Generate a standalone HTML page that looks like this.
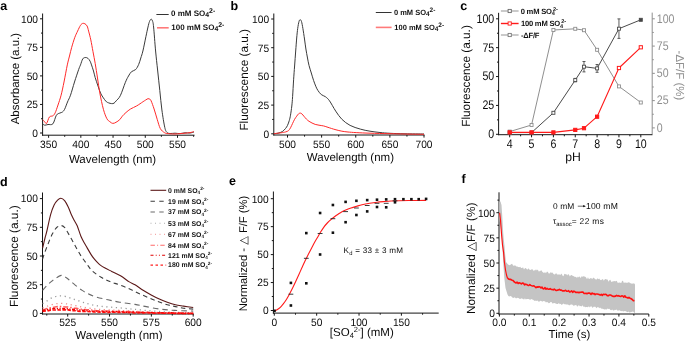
<!DOCTYPE html>
<html><head><meta charset="utf-8"><style>
html,body{margin:0;padding:0;background:#fff;}
body{width:685px;height:341px;overflow:hidden;}
svg{display:block;will-change:transform;font-family:"Liberation Sans", sans-serif;text-rendering:geometricPrecision;}
</style></head><body>
<svg width="685" height="341" viewBox="0 0 685 341">
<rect width="685" height="341" fill="#fff"/>
<text x="0.30" y="9.80" font-size="12.5" text-anchor="start" fill="#000" font-weight="bold" >a</text>
<line x1="42.60" y1="13.50" x2="42.60" y2="135.70" stroke="#151515" stroke-width="1" />
<line x1="40.00" y1="133.00" x2="42.60" y2="133.00" stroke="#151515" stroke-width="1" />
<line x1="40.00" y1="104.45" x2="42.60" y2="104.45" stroke="#151515" stroke-width="1" />
<line x1="40.00" y1="75.90" x2="42.60" y2="75.90" stroke="#151515" stroke-width="1" />
<line x1="40.00" y1="47.35" x2="42.60" y2="47.35" stroke="#151515" stroke-width="1" />
<line x1="40.00" y1="18.80" x2="42.60" y2="18.80" stroke="#151515" stroke-width="1" />
<line x1="41.00" y1="118.72" x2="42.60" y2="118.72" stroke="#151515" stroke-width="1" />
<line x1="41.00" y1="90.17" x2="42.60" y2="90.17" stroke="#151515" stroke-width="1" />
<line x1="41.00" y1="61.62" x2="42.60" y2="61.62" stroke="#151515" stroke-width="1" />
<line x1="41.00" y1="33.08" x2="42.60" y2="33.08" stroke="#151515" stroke-width="1" />
<text transform="translate(38.00,136.83) scale(1,1.05)" font-size="10.2" text-anchor="end" fill="#0a0a0a" font-weight="normal" >0</text>
<text transform="translate(38.00,108.28) scale(1,1.05)" font-size="10.2" text-anchor="end" fill="#0a0a0a" font-weight="normal" >25</text>
<text transform="translate(38.00,79.73) scale(1,1.05)" font-size="10.2" text-anchor="end" fill="#0a0a0a" font-weight="normal" >50</text>
<text transform="translate(38.00,51.18) scale(1,1.05)" font-size="10.2" text-anchor="end" fill="#0a0a0a" font-weight="normal" >75</text>
<text transform="translate(38.00,22.63) scale(1,1.05)" font-size="10.2" text-anchor="end" fill="#0a0a0a" font-weight="normal" >100</text>
<line x1="42.10" y1="135.20" x2="194.50" y2="135.20" stroke="#151515" stroke-width="1" />
<line x1="48.60" y1="135.20" x2="48.60" y2="137.80" stroke="#151515" stroke-width="1" />
<line x1="80.83" y1="135.20" x2="80.83" y2="137.80" stroke="#151515" stroke-width="1" />
<line x1="113.05" y1="135.20" x2="113.05" y2="137.80" stroke="#151515" stroke-width="1" />
<line x1="145.28" y1="135.20" x2="145.28" y2="137.80" stroke="#151515" stroke-width="1" />
<line x1="177.50" y1="135.20" x2="177.50" y2="137.80" stroke="#151515" stroke-width="1" />
<line x1="64.71" y1="135.20" x2="64.71" y2="136.80" stroke="#151515" stroke-width="1" />
<line x1="96.94" y1="135.20" x2="96.94" y2="136.80" stroke="#151515" stroke-width="1" />
<line x1="129.16" y1="135.20" x2="129.16" y2="136.80" stroke="#151515" stroke-width="1" />
<line x1="161.39" y1="135.20" x2="161.39" y2="136.80" stroke="#151515" stroke-width="1" />
<line x1="193.61" y1="135.20" x2="193.61" y2="136.80" stroke="#151515" stroke-width="1" />
<text transform="translate(48.60,148.00) scale(1,1.05)" font-size="10.2" text-anchor="middle" fill="#0a0a0a" font-weight="normal" >350</text>
<text transform="translate(80.83,148.00) scale(1,1.05)" font-size="10.2" text-anchor="middle" fill="#0a0a0a" font-weight="normal" >400</text>
<text transform="translate(113.05,148.00) scale(1,1.05)" font-size="10.2" text-anchor="middle" fill="#0a0a0a" font-weight="normal" >450</text>
<text transform="translate(145.28,148.00) scale(1,1.05)" font-size="10.2" text-anchor="middle" fill="#0a0a0a" font-weight="normal" >500</text>
<text transform="translate(177.50,148.00) scale(1,1.05)" font-size="10.2" text-anchor="middle" fill="#0a0a0a" font-weight="normal" >550</text>
<text transform="translate(18.70,78.60) rotate(-90)" x="0" y="0" font-size="11.5" text-anchor="middle" fill="#0a0a0a" >Absorbance (a.u.)</text>
<text x="112.50" y="162.70" font-size="11.5" text-anchor="middle" fill="#0a0a0a" font-weight="normal" >Wavelength (nm)</text>
<path d="M42.60,123.80 C42.95,124.03 43.80,125.08 44.70,125.20 C45.60,125.32 46.63,124.73 48.00,124.50 C49.37,124.27 51.50,125.35 52.90,123.80 C54.30,122.25 55.22,117.00 56.40,115.20 C57.58,113.40 59.02,113.52 60.00,113.00 C60.98,112.48 61.53,112.72 62.30,112.10 C63.07,111.48 63.73,110.98 64.60,109.30 C65.47,107.62 66.52,104.35 67.50,102.00 C68.48,99.65 69.33,98.53 70.50,95.20 C71.67,91.87 73.13,86.30 74.50,82.00 C75.87,77.70 77.70,72.25 78.70,69.40 C79.70,66.55 79.83,66.63 80.50,64.90 C81.17,63.17 81.92,60.23 82.70,59.00 C83.48,57.77 84.33,57.62 85.20,57.50 C86.07,57.38 87.08,57.68 87.90,58.30 C88.72,58.92 89.50,60.10 90.10,61.20 C90.70,62.30 90.93,63.27 91.50,64.90 C92.07,66.53 92.88,68.88 93.50,71.00 C94.12,73.12 94.45,75.10 95.20,77.60 C95.95,80.10 97.03,83.27 98.00,86.00 C98.97,88.73 99.72,91.50 101.00,94.00 C102.28,96.50 104.45,99.53 105.70,101.00 C106.95,102.47 107.52,102.37 108.50,102.80 C109.48,103.23 110.68,103.53 111.60,103.60 C112.52,103.67 113.23,103.67 114.00,103.20 C114.77,102.73 115.15,102.05 116.20,100.80 C117.25,99.55 118.77,98.78 120.30,95.70 C121.83,92.62 124.03,85.58 125.40,82.30 C126.77,79.02 127.47,77.78 128.50,76.00 C129.53,74.22 130.40,72.68 131.60,71.60 C132.80,70.52 134.52,70.70 135.70,69.50 C136.88,68.30 137.85,66.32 138.70,64.40 C139.55,62.48 140.10,60.23 140.80,58.00 C141.50,55.77 142.05,54.55 142.90,51.00 C143.75,47.45 145.05,40.70 145.90,36.70 C146.75,32.70 147.40,29.53 148.00,27.00 C148.60,24.47 148.98,22.80 149.50,21.50 C150.02,20.20 150.60,19.28 151.10,19.20 C151.60,19.12 152.08,19.70 152.50,21.00 C152.92,22.30 153.08,22.00 153.60,27.00 C154.12,32.00 154.93,43.83 155.60,51.00 C156.27,58.17 156.90,63.42 157.60,70.00 C158.30,76.58 159.08,83.83 159.80,90.50 C160.52,97.17 161.07,103.83 161.90,110.00 C162.73,116.17 163.95,123.77 164.80,127.50 C165.65,131.23 166.13,131.40 167.00,132.40 C167.87,133.40 168.67,133.37 170.00,133.50 C171.33,133.63 173.33,133.18 175.00,133.20 C176.67,133.22 178.33,133.67 180.00,133.60 C181.67,133.53 183.33,132.90 185.00,132.80 C186.67,132.70 188.50,133.13 190.00,133.00 C191.50,132.87 193.33,132.17 194.00,132.00" fill="none" stroke="#3a3a3a" stroke-width="1" stroke-linejoin="round" stroke-linecap="butt" />
<path d="M42.60,119.80 C42.92,120.08 43.83,120.90 44.50,121.50 C45.17,122.10 45.78,124.15 46.60,123.40 C47.42,122.65 48.35,118.27 49.40,117.00 C50.45,115.73 51.93,116.50 52.90,115.80 C53.87,115.10 54.35,114.60 55.20,112.80 C56.05,111.00 57.02,107.93 58.00,105.00 C58.98,102.07 60.10,99.03 61.10,95.20 C62.10,91.37 62.97,87.05 64.00,82.00 C65.03,76.95 66.38,69.23 67.30,64.90 C68.22,60.57 68.77,58.93 69.50,56.00 C70.23,53.07 70.83,50.35 71.70,47.30 C72.57,44.25 73.72,40.40 74.70,37.70 C75.68,35.00 76.63,33.17 77.60,31.10 C78.57,29.03 79.65,26.58 80.50,25.30 C81.35,24.02 81.97,23.65 82.70,23.40 C83.43,23.15 84.17,23.37 84.90,23.80 C85.63,24.23 86.48,24.78 87.10,26.00 C87.72,27.22 87.98,28.78 88.60,31.10 C89.22,33.42 90.07,36.47 90.80,39.90 C91.53,43.33 92.27,47.78 93.00,51.70 C93.73,55.62 94.45,59.02 95.20,63.40 C95.95,67.78 96.73,73.08 97.50,78.00 C98.27,82.92 98.82,87.68 99.80,92.90 C100.78,98.12 102.22,105.00 103.40,109.30 C104.58,113.60 105.80,116.62 106.90,118.70 C108.00,120.78 109.02,121.02 110.00,121.80 C110.98,122.58 111.80,123.32 112.80,123.40 C113.80,123.48 114.83,122.93 116.00,122.30 C117.17,121.67 118.75,120.62 119.80,119.60 C120.85,118.58 121.27,117.38 122.30,116.20 C123.33,115.02 124.63,113.70 126.00,112.50 C127.37,111.30 128.72,110.10 130.50,109.00 C132.28,107.90 134.63,107.10 136.70,105.90 C138.77,104.70 141.35,102.82 142.90,101.80 C144.45,100.78 145.15,100.32 146.00,99.80 C146.85,99.28 147.37,98.80 148.00,98.70 C148.63,98.60 149.28,98.85 149.80,99.20 C150.32,99.55 150.38,99.17 151.10,100.80 C151.82,102.43 153.08,105.92 154.10,109.00 C155.12,112.08 156.17,116.05 157.20,119.30 C158.23,122.55 159.10,126.28 160.30,128.50 C161.50,130.72 163.12,131.75 164.40,132.60 C165.68,133.45 166.23,133.37 168.00,133.60 C169.77,133.83 173.00,134.00 175.00,134.00 C177.00,134.00 178.33,133.73 180.00,133.60 C181.67,133.47 183.33,133.37 185.00,133.20 C186.67,133.03 188.50,132.87 190.00,132.60 C191.50,132.33 193.33,131.77 194.00,131.60" fill="none" stroke="#ff2a2a" stroke-width="1" stroke-linejoin="round" stroke-linecap="butt" />
<line x1="156.40" y1="14.50" x2="168.70" y2="14.50" stroke="#333" stroke-width="1" />
<line x1="157.00" y1="27.80" x2="168.70" y2="27.80" stroke="#ff7a7a" stroke-width="1.6" />
<text x="171.00" y="16.20" font-size="8.0" font-weight="bold" fill="#111" letter-spacing="0">0 mM SO<tspan font-size="6.9" dy="1.2">4</tspan><tspan font-size="6.9" dx="0" dy="-4.0">2-</tspan></text>
<text x="171.30" y="29.70" font-size="8.0" font-weight="bold" fill="#111" letter-spacing="0">100 mM SO<tspan font-size="6.9" dy="1.2">4</tspan><tspan font-size="6.9" dx="0" dy="-4.0">2-</tspan></text>
<text x="230.50" y="9.60" font-size="12.5" text-anchor="start" fill="#000" font-weight="bold" >b</text>
<line x1="273.80" y1="13.50" x2="273.80" y2="135.50" stroke="#151515" stroke-width="1" />
<line x1="271.20" y1="133.80" x2="273.80" y2="133.80" stroke="#151515" stroke-width="1" />
<line x1="271.20" y1="105.10" x2="273.80" y2="105.10" stroke="#151515" stroke-width="1" />
<line x1="271.20" y1="76.40" x2="273.80" y2="76.40" stroke="#151515" stroke-width="1" />
<line x1="271.20" y1="47.70" x2="273.80" y2="47.70" stroke="#151515" stroke-width="1" />
<line x1="271.20" y1="19.00" x2="273.80" y2="19.00" stroke="#151515" stroke-width="1" />
<line x1="272.20" y1="119.45" x2="273.80" y2="119.45" stroke="#151515" stroke-width="1" />
<line x1="272.20" y1="90.75" x2="273.80" y2="90.75" stroke="#151515" stroke-width="1" />
<line x1="272.20" y1="62.05" x2="273.80" y2="62.05" stroke="#151515" stroke-width="1" />
<line x1="272.20" y1="33.35" x2="273.80" y2="33.35" stroke="#151515" stroke-width="1" />
<text transform="translate(269.10,137.63) scale(1,1.05)" font-size="10.2" text-anchor="end" fill="#0a0a0a" font-weight="normal" >0</text>
<text transform="translate(269.10,108.93) scale(1,1.05)" font-size="10.2" text-anchor="end" fill="#0a0a0a" font-weight="normal" >25</text>
<text transform="translate(269.10,80.23) scale(1,1.05)" font-size="10.2" text-anchor="end" fill="#0a0a0a" font-weight="normal" >50</text>
<text transform="translate(269.10,51.53) scale(1,1.05)" font-size="10.2" text-anchor="end" fill="#0a0a0a" font-weight="normal" >75</text>
<text transform="translate(269.10,22.83) scale(1,1.05)" font-size="10.2" text-anchor="end" fill="#0a0a0a" font-weight="normal" >100</text>
<line x1="273.30" y1="135.00" x2="424.50" y2="135.00" stroke="#151515" stroke-width="1" />
<line x1="287.50" y1="135.00" x2="287.50" y2="137.60" stroke="#151515" stroke-width="1" />
<line x1="321.62" y1="135.00" x2="321.62" y2="137.60" stroke="#151515" stroke-width="1" />
<line x1="355.75" y1="135.00" x2="355.75" y2="137.60" stroke="#151515" stroke-width="1" />
<line x1="389.88" y1="135.00" x2="389.88" y2="137.60" stroke="#151515" stroke-width="1" />
<line x1="424.00" y1="135.00" x2="424.00" y2="137.60" stroke="#151515" stroke-width="1" />
<line x1="304.56" y1="135.00" x2="304.56" y2="136.60" stroke="#151515" stroke-width="1" />
<line x1="338.69" y1="135.00" x2="338.69" y2="136.60" stroke="#151515" stroke-width="1" />
<line x1="372.81" y1="135.00" x2="372.81" y2="136.60" stroke="#151515" stroke-width="1" />
<line x1="406.94" y1="135.00" x2="406.94" y2="136.60" stroke="#151515" stroke-width="1" />
<text transform="translate(287.50,147.80) scale(1,1.05)" font-size="10.2" text-anchor="middle" fill="#0a0a0a" font-weight="normal" >500</text>
<text transform="translate(321.62,147.80) scale(1,1.05)" font-size="10.2" text-anchor="middle" fill="#0a0a0a" font-weight="normal" >550</text>
<text transform="translate(355.75,147.80) scale(1,1.05)" font-size="10.2" text-anchor="middle" fill="#0a0a0a" font-weight="normal" >600</text>
<text transform="translate(389.88,147.80) scale(1,1.05)" font-size="10.2" text-anchor="middle" fill="#0a0a0a" font-weight="normal" >650</text>
<text transform="translate(424.00,147.80) scale(1,1.05)" font-size="10.2" text-anchor="middle" fill="#0a0a0a" font-weight="normal" >700</text>
<text transform="translate(248.30,79.80) rotate(-90)" x="0" y="0" font-size="11.8" text-anchor="middle" fill="#0a0a0a" >Fluorescence (a.u.)</text>
<text x="350.40" y="161.30" font-size="11.5" text-anchor="middle" fill="#0a0a0a" font-weight="normal" >Wavelength (nm)</text>
<path d="M273.80,133.70 C274.50,133.62 276.58,133.55 278.00,133.20 C279.42,132.85 281.05,132.38 282.30,131.60 C283.55,130.82 284.63,129.53 285.50,128.50 C286.37,127.47 286.87,126.73 287.50,125.40 C288.13,124.07 288.80,122.20 289.30,120.50 C289.80,118.80 290.08,117.62 290.50,115.20 C290.92,112.78 291.45,109.08 291.80,106.00 C292.15,102.92 292.30,101.07 292.60,96.70 C292.90,92.33 293.27,84.92 293.60,79.80 C293.93,74.68 294.25,70.80 294.60,66.00 C294.95,61.20 295.35,55.67 295.70,51.00 C296.05,46.33 296.37,41.75 296.70,38.00 C297.03,34.25 297.32,31.25 297.70,28.50 C298.08,25.75 298.58,22.97 299.00,21.50 C299.42,20.03 299.78,19.70 300.20,19.70 C300.62,19.70 301.05,20.03 301.50,21.50 C301.95,22.97 302.40,25.58 302.90,28.50 C303.40,31.42 304.00,35.58 304.50,39.00 C305.00,42.42 305.40,45.83 305.90,49.00 C306.40,52.17 306.98,55.27 307.50,58.00 C308.02,60.73 308.37,62.90 309.00,65.40 C309.63,67.90 310.53,70.48 311.30,73.00 C312.07,75.52 312.82,78.20 313.60,80.50 C314.38,82.80 315.27,85.12 316.00,86.80 C316.73,88.48 317.12,89.30 318.00,90.60 C318.88,91.90 320.07,93.58 321.30,94.60 C322.53,95.62 324.03,95.67 325.40,96.70 C326.77,97.73 327.78,98.40 329.50,100.80 C331.22,103.20 333.63,108.02 335.70,111.10 C337.77,114.18 339.50,116.92 341.90,119.30 C344.30,121.68 347.03,123.77 350.10,125.40 C353.17,127.03 356.98,128.13 360.30,129.10 C363.62,130.07 366.72,130.63 370.00,131.20 C373.28,131.77 376.67,132.15 380.00,132.50 C383.33,132.85 385.83,133.08 390.00,133.30 C394.17,133.52 399.33,133.68 405.00,133.80 C410.67,133.92 420.83,133.97 424.00,134.00" fill="none" stroke="#3a3a3a" stroke-width="1" stroke-linejoin="round" stroke-linecap="butt" />
<path d="M273.80,133.70 C275.22,133.52 280.27,132.92 282.30,132.60 C284.33,132.28 284.97,132.13 286.00,131.80 C287.03,131.47 287.75,131.27 288.50,130.60 C289.25,129.93 289.82,129.00 290.50,127.80 C291.18,126.60 291.92,124.82 292.60,123.40 C293.28,121.98 293.92,120.50 294.60,119.30 C295.28,118.10 296.03,117.12 296.70,116.20 C297.37,115.28 297.98,114.32 298.60,113.80 C299.22,113.28 299.83,113.07 300.40,113.10 C300.97,113.13 301.42,113.48 302.00,114.00 C302.58,114.52 303.15,115.33 303.90,116.20 C304.65,117.07 305.65,118.35 306.50,119.20 C307.35,120.05 308.08,120.67 309.00,121.30 C309.92,121.93 310.97,122.48 312.00,123.00 C313.03,123.52 314.03,124.03 315.20,124.40 C316.37,124.77 317.63,124.95 319.00,125.20 C320.37,125.45 322.07,125.60 323.40,125.90 C324.73,126.20 325.63,126.57 327.00,127.00 C328.37,127.43 330.10,128.03 331.60,128.50 C333.10,128.97 334.28,129.35 336.00,129.80 C337.72,130.25 339.90,130.83 341.90,131.20 C343.90,131.57 345.62,131.77 348.00,132.00 C350.38,132.23 352.53,132.40 356.20,132.60 C359.87,132.80 364.37,133.02 370.00,133.20 C375.63,133.38 383.33,133.55 390.00,133.70 C396.67,133.85 404.33,134.00 410.00,134.10 C415.67,134.20 421.67,134.27 424.00,134.30" fill="none" stroke="#ff2a2a" stroke-width="1" stroke-linejoin="round" stroke-linecap="butt" />
<line x1="375.80" y1="12.50" x2="391.60" y2="12.50" stroke="#333" stroke-width="1" />
<line x1="375.80" y1="27.40" x2="391.60" y2="27.40" stroke="#ff7a7a" stroke-width="1.6" />
<text x="393.90" y="14.90" font-size="7.5" font-weight="bold" fill="#111" letter-spacing="0">0 mM SO<tspan font-size="6.5" dy="1.2">4</tspan><tspan font-size="6.5" dx="0" dy="-3.8">2-</tspan></text>
<text x="394.30" y="29.50" font-size="7.5" font-weight="bold" fill="#111" letter-spacing="0">100 mM SO<tspan font-size="6.5" dy="1.2">4</tspan><tspan font-size="6.5" dx="0" dy="-3.8">2-</tspan></text>
<text x="460.30" y="9.60" font-size="12.5" text-anchor="start" fill="#000" font-weight="bold" >c</text>
<line x1="498.60" y1="12.80" x2="498.60" y2="135.20" stroke="#151515" stroke-width="1" />
<line x1="496.00" y1="134.30" x2="498.60" y2="134.30" stroke="#151515" stroke-width="1" />
<line x1="496.00" y1="105.43" x2="498.60" y2="105.43" stroke="#151515" stroke-width="1" />
<line x1="496.00" y1="76.55" x2="498.60" y2="76.55" stroke="#151515" stroke-width="1" />
<line x1="496.00" y1="47.67" x2="498.60" y2="47.67" stroke="#151515" stroke-width="1" />
<line x1="496.00" y1="18.80" x2="498.60" y2="18.80" stroke="#151515" stroke-width="1" />
<line x1="497.00" y1="119.86" x2="498.60" y2="119.86" stroke="#151515" stroke-width="1" />
<line x1="497.00" y1="90.99" x2="498.60" y2="90.99" stroke="#151515" stroke-width="1" />
<line x1="497.00" y1="62.11" x2="498.60" y2="62.11" stroke="#151515" stroke-width="1" />
<line x1="497.00" y1="33.24" x2="498.60" y2="33.24" stroke="#151515" stroke-width="1" />
<text transform="translate(494.20,138.20) scale(1,1.18)" font-size="10.6" text-anchor="end" fill="#0a0a0a" font-weight="normal" >0</text>
<text transform="translate(494.20,109.33) scale(1,1.18)" font-size="10.6" text-anchor="end" fill="#0a0a0a" font-weight="normal" >25</text>
<text transform="translate(494.20,80.45) scale(1,1.18)" font-size="10.6" text-anchor="end" fill="#0a0a0a" font-weight="normal" >50</text>
<text transform="translate(494.20,51.57) scale(1,1.18)" font-size="10.6" text-anchor="end" fill="#0a0a0a" font-weight="normal" >75</text>
<text transform="translate(494.20,22.70) scale(1,1.18)" font-size="10.6" text-anchor="end" fill="#0a0a0a" font-weight="normal" >100</text>
<line x1="652.20" y1="12.60" x2="652.20" y2="135.20" stroke="#8f8f8f" stroke-width="1" />
<line x1="652.20" y1="127.90" x2="654.80" y2="127.90" stroke="#8f8f8f" stroke-width="1" />
<line x1="652.20" y1="100.62" x2="654.80" y2="100.62" stroke="#8f8f8f" stroke-width="1" />
<line x1="652.20" y1="73.35" x2="654.80" y2="73.35" stroke="#8f8f8f" stroke-width="1" />
<line x1="652.20" y1="46.08" x2="654.80" y2="46.08" stroke="#8f8f8f" stroke-width="1" />
<line x1="652.20" y1="18.80" x2="654.80" y2="18.80" stroke="#8f8f8f" stroke-width="1" />
<line x1="652.20" y1="114.26" x2="653.80" y2="114.26" stroke="#8f8f8f" stroke-width="1" />
<line x1="652.20" y1="86.99" x2="653.80" y2="86.99" stroke="#8f8f8f" stroke-width="1" />
<line x1="652.20" y1="59.71" x2="653.80" y2="59.71" stroke="#8f8f8f" stroke-width="1" />
<line x1="652.20" y1="32.44" x2="653.80" y2="32.44" stroke="#8f8f8f" stroke-width="1" />
<text transform="translate(656.80,131.60) scale(1,1.18)" font-size="10.6" text-anchor="start" fill="#8f8f8f" font-weight="normal" >0</text>
<text transform="translate(656.80,104.33) scale(1,1.18)" font-size="10.6" text-anchor="start" fill="#8f8f8f" font-weight="normal" >25</text>
<text transform="translate(656.80,77.05) scale(1,1.18)" font-size="10.6" text-anchor="start" fill="#8f8f8f" font-weight="normal" >50</text>
<text transform="translate(656.80,49.78) scale(1,1.18)" font-size="10.6" text-anchor="start" fill="#8f8f8f" font-weight="normal" >75</text>
<text transform="translate(656.80,22.50) scale(1,1.18)" font-size="10.6" text-anchor="start" fill="#8f8f8f" font-weight="normal" >100</text>
<line x1="498.10" y1="134.70" x2="652.20" y2="134.70" stroke="#151515" stroke-width="1" />
<line x1="509.70" y1="134.70" x2="509.70" y2="137.30" stroke="#151515" stroke-width="1" />
<line x1="531.55" y1="134.70" x2="531.55" y2="137.30" stroke="#151515" stroke-width="1" />
<line x1="553.40" y1="134.70" x2="553.40" y2="137.30" stroke="#151515" stroke-width="1" />
<line x1="575.25" y1="134.70" x2="575.25" y2="137.30" stroke="#151515" stroke-width="1" />
<line x1="597.10" y1="134.70" x2="597.10" y2="137.30" stroke="#151515" stroke-width="1" />
<line x1="618.95" y1="134.70" x2="618.95" y2="137.30" stroke="#151515" stroke-width="1" />
<line x1="640.80" y1="134.70" x2="640.80" y2="137.30" stroke="#151515" stroke-width="1" />
<line x1="520.62" y1="134.70" x2="520.62" y2="136.30" stroke="#151515" stroke-width="1" />
<line x1="542.48" y1="134.70" x2="542.48" y2="136.30" stroke="#151515" stroke-width="1" />
<line x1="564.32" y1="134.70" x2="564.32" y2="136.30" stroke="#151515" stroke-width="1" />
<line x1="586.17" y1="134.70" x2="586.17" y2="136.30" stroke="#151515" stroke-width="1" />
<line x1="608.02" y1="134.70" x2="608.02" y2="136.30" stroke="#151515" stroke-width="1" />
<line x1="629.88" y1="134.70" x2="629.88" y2="136.30" stroke="#151515" stroke-width="1" />
<text transform="translate(509.70,148.20) scale(1,1.18)" font-size="10.6" text-anchor="middle" fill="#0a0a0a" font-weight="normal" >4</text>
<text transform="translate(531.55,148.20) scale(1,1.18)" font-size="10.6" text-anchor="middle" fill="#0a0a0a" font-weight="normal" >5</text>
<text transform="translate(553.40,148.20) scale(1,1.18)" font-size="10.6" text-anchor="middle" fill="#0a0a0a" font-weight="normal" >6</text>
<text transform="translate(575.25,148.20) scale(1,1.18)" font-size="10.6" text-anchor="middle" fill="#0a0a0a" font-weight="normal" >7</text>
<text transform="translate(597.10,148.20) scale(1,1.18)" font-size="10.6" text-anchor="middle" fill="#0a0a0a" font-weight="normal" >8</text>
<text transform="translate(618.95,148.20) scale(1,1.18)" font-size="10.6" text-anchor="middle" fill="#0a0a0a" font-weight="normal" >9</text>
<text transform="translate(640.80,148.20) scale(1,1.18)" font-size="10.6" text-anchor="middle" fill="#0a0a0a" font-weight="normal" >10</text>
<text transform="translate(470.10,76.00) rotate(-90)" x="0" y="0" font-size="11.8" text-anchor="middle" fill="#0a0a0a" >Fluorescence (a.u.)</text>
<text transform="translate(675.60,75.50) rotate(90)" x="0" y="0" font-size="11.5" text-anchor="middle" fill="#8f8f8f" >-ΔF/F (%)</text>
<text x="573.00" y="160.60" font-size="12.2" text-anchor="middle" fill="#0a0a0a" font-weight="normal" >pH</text>
<path d="M509.70,131.60 L531.55,125.00 L553.40,30.00 L575.25,28.80 L583.99,30.20 L597.10,49.80 L618.95,86.40 L640.80,102.50" fill="none" stroke="#8f8f8f" stroke-width="1" stroke-linejoin="round" stroke-linecap="butt" />
<path d="M509.70,132.60 L531.55,132.60 L553.40,112.80 L575.25,80.10 L583.99,66.70 L597.10,68.40 L618.95,28.70 L640.80,19.80" fill="none" stroke="#4a4a4a" stroke-width="1" stroke-linejoin="round" stroke-linecap="butt" />
<line x1="575.25" y1="78.40" x2="575.25" y2="81.80" stroke="#4a4a4a" stroke-width="0.9" />
<line x1="573.75" y1="78.40" x2="576.75" y2="78.40" stroke="#4a4a4a" stroke-width="0.9" />
<line x1="573.75" y1="81.80" x2="576.75" y2="81.80" stroke="#4a4a4a" stroke-width="0.9" />
<line x1="583.99" y1="61.50" x2="583.99" y2="71.90" stroke="#4a4a4a" stroke-width="0.9" />
<line x1="582.49" y1="61.50" x2="585.49" y2="61.50" stroke="#4a4a4a" stroke-width="0.9" />
<line x1="582.49" y1="71.90" x2="585.49" y2="71.90" stroke="#4a4a4a" stroke-width="0.9" />
<line x1="597.10" y1="64.50" x2="597.10" y2="72.30" stroke="#4a4a4a" stroke-width="0.9" />
<line x1="595.60" y1="64.50" x2="598.60" y2="64.50" stroke="#4a4a4a" stroke-width="0.9" />
<line x1="595.60" y1="72.30" x2="598.60" y2="72.30" stroke="#4a4a4a" stroke-width="0.9" />
<line x1="618.95" y1="18.90" x2="618.95" y2="38.40" stroke="#4a4a4a" stroke-width="0.9" />
<line x1="617.45" y1="18.90" x2="620.45" y2="18.90" stroke="#4a4a4a" stroke-width="0.9" />
<line x1="617.45" y1="38.40" x2="620.45" y2="38.40" stroke="#4a4a4a" stroke-width="0.9" />
<rect x="508.20" y="130.10" width="3" height="3" fill="#fff" stroke="#8f8f8f" stroke-width="0.9"/>
<rect x="530.05" y="123.50" width="3" height="3" fill="#fff" stroke="#8f8f8f" stroke-width="0.9"/>
<rect x="551.90" y="28.50" width="3" height="3" fill="#fff" stroke="#8f8f8f" stroke-width="0.9"/>
<rect x="573.75" y="27.30" width="3" height="3" fill="#fff" stroke="#8f8f8f" stroke-width="0.9"/>
<rect x="582.49" y="28.70" width="3" height="3" fill="#fff" stroke="#8f8f8f" stroke-width="0.9"/>
<rect x="595.60" y="48.30" width="3" height="3" fill="#fff" stroke="#8f8f8f" stroke-width="0.9"/>
<rect x="617.45" y="84.90" width="3" height="3" fill="#fff" stroke="#8f8f8f" stroke-width="0.9"/>
<rect x="639.30" y="101.00" width="3" height="3" fill="#fff" stroke="#8f8f8f" stroke-width="0.9"/>
<rect x="508.20" y="131.10" width="3" height="3" fill="#fff" stroke="#4a4a4a" stroke-width="0.9"/>
<rect x="530.05" y="131.10" width="3" height="3" fill="#fff" stroke="#4a4a4a" stroke-width="0.9"/>
<rect x="551.90" y="111.30" width="3" height="3" fill="#fff" stroke="#4a4a4a" stroke-width="0.9"/>
<rect x="573.75" y="78.60" width="3" height="3" fill="#fff" stroke="#4a4a4a" stroke-width="0.9"/>
<rect x="582.49" y="65.20" width="3" height="3" fill="#fff" stroke="#4a4a4a" stroke-width="0.9"/>
<rect x="595.60" y="66.90" width="3" height="3" fill="#fff" stroke="#4a4a4a" stroke-width="0.9"/>
<rect x="617.45" y="27.20" width="3" height="3" fill="#fff" stroke="#4a4a4a" stroke-width="0.9"/>
<rect x="639.30" y="18.30" width="3" height="3" fill="#444" stroke="#4a4a4a" stroke-width="0.9"/>
<path d="M509.70,132.40 L531.55,132.40 L553.40,132.40 L575.25,129.90 L583.99,128.20 L597.10,116.70 L618.95,68.00 L640.80,47.30" fill="none" stroke="#ff1a1a" stroke-width="1.1" stroke-linejoin="round" stroke-linecap="butt" />
<rect x="508.10" y="130.80" width="3.2" height="3.2" fill="#ff1a1a" stroke="#ff1a1a" stroke-width="1"/>
<rect x="529.95" y="130.80" width="3.2" height="3.2" fill="#ff1a1a" stroke="#ff1a1a" stroke-width="1"/>
<rect x="551.80" y="130.80" width="3.2" height="3.2" fill="#ff1a1a" stroke="#ff1a1a" stroke-width="1"/>
<rect x="573.65" y="128.30" width="3.2" height="3.2" fill="#ff1a1a" stroke="#ff1a1a" stroke-width="1"/>
<rect x="582.39" y="126.60" width="3.2" height="3.2" fill="#ff1a1a" stroke="#ff1a1a" stroke-width="1"/>
<rect x="595.50" y="115.10" width="3.2" height="3.2" fill="#ff1a1a" stroke="#ff1a1a" stroke-width="1"/>
<rect x="617.35" y="66.40" width="3.2" height="3.2" fill="#fff" stroke="#ff1a1a" stroke-width="1"/>
<rect x="639.20" y="45.70" width="3.2" height="3.2" fill="#fff" stroke="#ff1a1a" stroke-width="1"/>
<line x1="500.90" y1="11.00" x2="518.60" y2="11.00" stroke="#b4b4b4" stroke-width="1.4" />
<rect x="508.10" y="9.40" width="3.2" height="3.2" fill="#fff" stroke="#6a6a6a" stroke-width="0.9"/>
<line x1="500.90" y1="23.50" x2="518.60" y2="23.50" stroke="#ff1a1a" stroke-width="1.4" />
<rect x="508.10" y="21.90" width="3.2" height="3.2" fill="#fff" stroke="#ff1a1a" stroke-width="0.9"/>
<line x1="500.90" y1="35.00" x2="518.60" y2="35.00" stroke="#b4b4b4" stroke-width="1.4" />
<rect x="508.10" y="33.40" width="3.2" height="3.2" fill="#fff" stroke="#7a7a7a" stroke-width="0.9"/>
<text x="520.7" y="13.7" font-size="7.6" font-weight="bold" fill="#111" letter-spacing="-0.2">0 mM SO<tspan font-size="5.6" dy="1.6">4</tspan><tspan font-size="5.6" dx="-1.6" dy="-4.8">2-</tspan></text>
<text x="520.9" y="26.2" font-size="7.6" font-weight="bold" fill="#111" letter-spacing="-0.2">100 mM SO<tspan font-size="5.6" dy="1.6">4</tspan><tspan font-size="5.6" dx="-1.6" dy="-4.8">2-</tspan></text>
<text x="520.9" y="37.7" font-size="7.6" font-weight="bold" fill="#111" letter-spacing="-0.2">-ΔF/F</text>
<text x="0.00" y="185.50" font-size="12.5" text-anchor="start" fill="#000" font-weight="bold" >d</text>
<line x1="42.50" y1="192.50" x2="42.50" y2="314.50" stroke="#151515" stroke-width="1" />
<line x1="39.90" y1="313.40" x2="42.50" y2="313.40" stroke="#151515" stroke-width="1" />
<line x1="39.90" y1="284.70" x2="42.50" y2="284.70" stroke="#151515" stroke-width="1" />
<line x1="39.90" y1="256.00" x2="42.50" y2="256.00" stroke="#151515" stroke-width="1" />
<line x1="39.90" y1="227.30" x2="42.50" y2="227.30" stroke="#151515" stroke-width="1" />
<line x1="39.90" y1="198.60" x2="42.50" y2="198.60" stroke="#151515" stroke-width="1" />
<line x1="40.90" y1="299.05" x2="42.50" y2="299.05" stroke="#151515" stroke-width="1" />
<line x1="40.90" y1="270.35" x2="42.50" y2="270.35" stroke="#151515" stroke-width="1" />
<line x1="40.90" y1="241.65" x2="42.50" y2="241.65" stroke="#151515" stroke-width="1" />
<line x1="40.90" y1="212.95" x2="42.50" y2="212.95" stroke="#151515" stroke-width="1" />
<text transform="translate(37.80,317.23) scale(1,1.05)" font-size="10.2" text-anchor="end" fill="#0a0a0a" font-weight="normal" >0</text>
<text transform="translate(37.80,288.53) scale(1,1.05)" font-size="10.2" text-anchor="end" fill="#0a0a0a" font-weight="normal" >25</text>
<text transform="translate(37.80,259.83) scale(1,1.05)" font-size="10.2" text-anchor="end" fill="#0a0a0a" font-weight="normal" >50</text>
<text transform="translate(37.80,231.13) scale(1,1.05)" font-size="10.2" text-anchor="end" fill="#0a0a0a" font-weight="normal" >75</text>
<text transform="translate(37.80,202.43) scale(1,1.05)" font-size="10.2" text-anchor="end" fill="#0a0a0a" font-weight="normal" >100</text>
<line x1="42.00" y1="314.00" x2="193.70" y2="314.00" stroke="#151515" stroke-width="1" />
<line x1="67.70" y1="314.00" x2="67.70" y2="316.60" stroke="#151515" stroke-width="1" />
<line x1="109.53" y1="314.00" x2="109.53" y2="316.60" stroke="#151515" stroke-width="1" />
<line x1="151.37" y1="314.00" x2="151.37" y2="316.60" stroke="#151515" stroke-width="1" />
<line x1="193.20" y1="314.00" x2="193.20" y2="316.60" stroke="#151515" stroke-width="1" />
<line x1="46.78" y1="314.00" x2="46.78" y2="315.60" stroke="#151515" stroke-width="1" />
<line x1="88.62" y1="314.00" x2="88.62" y2="315.60" stroke="#151515" stroke-width="1" />
<line x1="130.45" y1="314.00" x2="130.45" y2="315.60" stroke="#151515" stroke-width="1" />
<line x1="172.28" y1="314.00" x2="172.28" y2="315.60" stroke="#151515" stroke-width="1" />
<text transform="translate(67.70,325.90) scale(1,1.05)" font-size="10.2" text-anchor="middle" fill="#0a0a0a" font-weight="normal" >525</text>
<text transform="translate(109.53,325.90) scale(1,1.05)" font-size="10.2" text-anchor="middle" fill="#0a0a0a" font-weight="normal" >550</text>
<text transform="translate(151.37,325.90) scale(1,1.05)" font-size="10.2" text-anchor="middle" fill="#0a0a0a" font-weight="normal" >575</text>
<text transform="translate(193.20,325.90) scale(1,1.05)" font-size="10.2" text-anchor="middle" fill="#0a0a0a" font-weight="normal" >600</text>
<text transform="translate(18.10,256.20) rotate(-90)" x="0" y="0" font-size="11.8" text-anchor="middle" fill="#0a0a0a" >Fluorescence (a.u.)</text>
<text x="118.90" y="338.50" font-size="11.5" text-anchor="middle" fill="#0a0a0a" font-weight="normal" >Wavelength (nm)</text>
<path d="M42.60,248.00 C43.00,246.33 44.27,240.92 45.00,238.00 C45.73,235.08 46.07,234.40 47.00,230.50 C47.93,226.60 49.42,218.85 50.60,214.60 C51.78,210.35 52.93,207.40 54.10,205.00 C55.27,202.60 56.49,201.32 57.60,200.20 C58.71,199.08 59.58,198.23 60.75,198.30 C61.92,198.37 63.37,199.20 64.60,200.60 C65.82,202.00 66.98,204.38 68.10,206.70 C69.22,209.02 70.32,212.28 71.30,214.50 C72.28,216.72 73.02,218.12 74.00,220.00 C74.98,221.88 76.05,223.08 77.20,225.80 C78.35,228.52 79.68,233.38 80.90,236.30 C82.12,239.22 83.48,241.42 84.50,243.30 C85.52,245.18 85.90,245.72 87.00,247.60 C88.10,249.48 89.93,252.77 91.10,254.60 C92.27,256.43 92.92,257.27 94.00,258.60 C95.08,259.93 96.43,261.43 97.60,262.60 C98.77,263.77 99.83,264.73 101.00,265.60 C102.17,266.47 102.82,266.83 104.60,267.80 C106.38,268.77 109.05,270.07 111.70,271.40 C114.35,272.73 117.57,274.05 120.50,275.80 C123.43,277.55 126.88,280.40 129.30,281.90 C131.72,283.40 132.70,283.42 135.00,284.80 C137.30,286.18 140.40,288.52 143.10,290.20 C145.80,291.88 148.50,293.43 151.20,294.90 C153.90,296.37 156.62,297.77 159.30,299.00 C161.98,300.23 164.62,301.33 167.30,302.30 C169.98,303.27 172.70,304.17 175.40,304.80 C178.10,305.43 180.53,305.65 183.50,306.10 C186.47,306.55 191.58,307.27 193.20,307.50" fill="none" stroke="#5b1818" stroke-width="1.1" stroke-linejoin="round" stroke-linecap="butt" />
<path d="M42.60,259.00 C42.87,258.17 43.32,256.45 44.20,254.00 C45.08,251.55 46.55,247.62 47.90,244.30 C49.25,240.98 50.83,236.90 52.30,234.10 C53.77,231.30 55.23,228.92 56.70,227.50 C58.17,226.08 59.80,225.63 61.10,225.60 C62.40,225.57 63.28,225.97 64.50,227.30 C65.72,228.63 67.02,231.25 68.40,233.60 C69.78,235.95 71.33,238.75 72.80,241.40 C74.27,244.05 75.73,246.93 77.20,249.50 C78.67,252.07 80.02,254.42 81.60,256.80 C83.18,259.18 84.92,261.43 86.70,263.80 C88.48,266.17 89.90,268.75 92.30,271.00 C94.70,273.25 98.17,275.53 101.10,277.30 C104.03,279.07 106.97,280.38 109.90,281.60 C112.83,282.82 115.77,283.52 118.70,284.60 C121.63,285.68 124.78,286.93 127.50,288.10 C130.22,289.27 132.42,290.40 135.00,291.60 C137.58,292.80 140.30,294.10 143.00,295.30 C145.70,296.50 148.48,297.67 151.20,298.80 C153.92,299.93 156.62,301.12 159.30,302.10 C161.98,303.08 164.62,303.95 167.30,304.70 C169.98,305.45 172.70,306.02 175.40,306.60 C178.10,307.18 180.53,307.78 183.50,308.20 C186.47,308.62 191.58,308.95 193.20,309.10" fill="none" stroke="#3c3c3c" stroke-width="1.1" stroke-linejoin="round" stroke-linecap="butt" stroke-dasharray="4.5,3.5"/>
<path d="M42.60,290.40 C43.50,289.42 46.10,286.32 48.00,284.50 C49.90,282.68 51.82,281.02 54.00,279.50 C56.18,277.98 59.10,275.73 61.10,275.40 C63.10,275.07 64.43,276.57 66.00,277.50 C67.57,278.43 67.80,278.85 70.50,281.00 C73.20,283.15 78.28,287.85 82.20,290.40 C86.12,292.95 89.70,294.73 94.00,296.30 C98.30,297.87 103.70,298.82 108.00,299.80 C112.30,300.78 115.30,301.43 119.80,302.20 C124.30,302.97 130.80,303.70 135.00,304.40 C139.20,305.10 140.83,305.62 145.00,306.40 C149.17,307.18 155.00,308.43 160.00,309.10 C165.00,309.77 169.47,310.07 175.00,310.40 C180.53,310.73 190.17,310.98 193.20,311.10" fill="none" stroke="#6a6a6a" stroke-width="1.1" stroke-linejoin="round" stroke-linecap="butt" stroke-dasharray="5.5,4"/>
<path d="M42.60,303.60 C43.00,303.34 44.27,302.50 45.00,302.05 C45.73,301.60 46.07,301.49 47.00,300.89 C47.93,300.28 49.42,299.08 50.60,298.42 C51.78,297.77 52.93,297.31 54.10,296.94 C55.27,296.56 56.49,296.37 57.60,296.19 C58.71,296.02 59.58,295.89 60.75,295.90 C61.92,295.91 63.37,296.04 64.60,296.25 C65.82,296.47 66.98,296.84 68.10,297.20 C69.22,297.56 70.32,298.06 71.30,298.41 C72.28,298.75 73.02,298.97 74.00,299.26 C74.98,299.55 76.05,299.74 77.20,300.16 C78.35,300.58 79.68,301.34 80.90,301.79 C82.12,302.24 83.48,302.58 84.50,302.87 C85.52,303.16 85.90,303.25 87.00,303.54 C88.10,303.83 89.93,304.34 91.10,304.62 C92.27,304.91 92.92,305.04 94.00,305.24 C95.08,305.45 96.43,305.68 97.60,305.86 C98.77,306.04 99.83,306.19 101.00,306.33 C102.17,306.46 102.82,306.52 104.60,306.67 C106.38,306.82 109.05,307.02 111.70,307.23 C114.35,307.43 117.57,307.64 120.50,307.91 C123.43,308.18 126.88,308.62 129.30,308.86 C131.72,309.09 132.70,309.09 135.00,309.31 C137.30,309.52 140.40,309.88 143.10,310.14 C145.80,310.40 148.50,310.64 151.20,310.87 C153.90,311.10 156.62,311.31 159.30,311.51 C161.98,311.70 164.62,311.87 167.30,312.02 C169.98,312.17 172.70,312.31 175.40,312.41 C178.10,312.50 180.53,312.54 183.50,312.61 C186.47,312.68 191.58,312.79 193.20,312.82" fill="none" stroke="#9a9a9a" stroke-width="1.3" stroke-linejoin="round" stroke-linecap="butt" stroke-dasharray="1.2,3.6" stroke-linecap="round"/>
<path d="M42.60,307.88 C43.00,307.73 44.27,307.24 45.00,306.98 C45.73,306.72 46.07,306.65 47.00,306.30 C47.93,305.95 49.42,305.25 50.60,304.87 C51.78,304.49 52.93,304.22 54.10,304.01 C55.27,303.79 56.49,303.68 57.60,303.58 C58.71,303.48 59.58,303.40 60.75,303.41 C61.92,303.41 63.37,303.49 64.60,303.61 C65.82,303.74 66.98,303.95 68.10,304.16 C69.22,304.37 70.32,304.66 71.30,304.86 C72.28,305.06 73.02,305.19 74.00,305.36 C74.98,305.53 76.05,305.64 77.20,305.88 C78.35,306.12 79.68,306.56 80.90,306.82 C82.12,307.09 83.48,307.29 84.50,307.45 C85.52,307.62 85.90,307.67 87.00,307.84 C88.10,308.01 89.93,308.31 91.10,308.47 C92.27,308.64 92.92,308.71 94.00,308.83 C95.08,308.95 96.43,309.09 97.60,309.19 C98.77,309.30 99.83,309.38 101.00,309.46 C102.17,309.54 102.82,309.57 104.60,309.66 C106.38,309.75 109.05,309.86 111.70,309.98 C114.35,310.10 117.57,310.22 120.50,310.38 C123.43,310.54 126.88,310.79 129.30,310.93 C131.72,311.06 132.70,311.07 135.00,311.19 C137.30,311.31 140.40,311.52 143.10,311.68 C145.80,311.83 148.50,311.97 151.20,312.10 C153.90,312.23 156.62,312.36 159.30,312.47 C161.98,312.58 164.62,312.68 167.30,312.76 C169.98,312.85 172.70,312.93 175.40,312.99 C178.10,313.05 180.53,313.07 183.50,313.11 C186.47,313.15 191.58,313.21 193.20,313.23" fill="none" stroke="#f08a8a" stroke-width="1.3" stroke-linejoin="round" stroke-linecap="butt" stroke-dasharray="1.2,3.6"/>
<path d="M42.60,309.51 L45.00,309.09 L47.00,308.54 L50.60,307.72 L54.10,307.16 L57.60,306.54 L60.75,306.39 L64.60,307.02 L68.10,307.04 L71.30,307.49 L74.00,308.28 L77.20,308.31 L80.90,309.16 L84.50,309.37 L87.00,309.72 L91.10,309.85 L94.00,310.38 L97.60,310.76 L101.00,310.73 L104.60,311.00 L108.15,311.06 L111.70,310.81 L116.10,311.35 L120.50,311.39 L124.90,311.40 L129.30,311.42 L135.00,312.09 L139.05,312.02 L143.10,312.33 L147.15,312.56 L151.20,312.61 L155.25,312.85 L159.30,312.66 L163.30,313.00 L167.30,312.89 L171.35,313.26 L175.40,313.30 L179.45,312.87 L183.50,312.93 L186.73,313.01 L189.97,313.49 L193.20,313.20" fill="none" stroke="#ff5a5a" stroke-width="1.4" stroke-linejoin="round" stroke-linecap="butt" stroke-dasharray="5,2,1.5,2"/>
<path d="M42.60,310.66 L45.00,310.00 L47.00,309.78 L50.60,308.98 L54.10,308.51 L57.60,308.43 L60.75,308.35 L64.60,308.64 L68.10,308.79 L71.30,309.30 L74.00,309.51 L77.20,309.86 L80.90,310.15 L84.50,310.16 L87.00,310.78 L91.10,311.16 L94.00,311.31 L97.60,311.30 L101.00,311.52 L104.60,311.32 L108.15,311.77 L111.70,311.70 L116.10,311.63 L120.50,311.60 L124.90,312.21 L129.30,312.44 L135.00,312.03 L139.05,312.58 L143.10,312.47 L147.15,312.42 L151.20,312.62 L155.25,313.00 L159.30,313.15 L163.30,312.73 L167.30,313.15 L171.35,312.86 L175.40,313.33 L179.45,313.12 L183.50,313.48 L186.73,313.56 L189.97,313.30 L193.20,313.62" fill="none" stroke="#e80000" stroke-width="1.5" stroke-linejoin="round" stroke-linecap="butt" stroke-dasharray="3,1.5,1.2,1.5,1.2,1.5"/>
<path d="M42.60,311.39 L45.00,310.93 L47.00,311.00 L50.60,310.15 L54.10,309.94 L57.60,309.92 L60.75,309.98 L64.60,309.78 L68.10,309.90 L71.30,310.65 L74.00,310.49 L77.20,311.07 L80.90,311.36 L84.50,311.28 L87.00,311.46 L91.10,311.72 L94.00,311.93 L97.60,312.03 L101.00,312.10 L104.60,312.21 L108.15,312.46 L111.70,312.25 L116.10,312.28 L120.50,312.52 L124.90,312.33 L129.30,312.47 L135.00,312.97 L139.05,312.78 L143.10,312.88 L147.15,312.63 L151.20,312.95 L155.25,313.12 L159.30,312.84 L163.30,313.26 L167.30,313.32 L171.35,313.01 L175.40,313.39 L179.45,313.32 L183.50,313.47 L186.73,313.29 L189.97,313.51 L193.20,313.55" fill="none" stroke="#ff0a0a" stroke-width="1.6" stroke-linejoin="round" stroke-linecap="butt" stroke-dasharray="3.5,1.5"/>
<line x1="150.50" y1="190.30" x2="166.20" y2="190.30" stroke="#5b1818" stroke-width="1.1" />
<text x="168.1" y="192.60" font-size="6.9" font-weight="bold" fill="#111">0 mM SO<tspan font-size="4.6" dy="1.4">4</tspan><tspan font-size="4.8" dy="-4.2">2-</tspan></text>
<line x1="150.50" y1="201.20" x2="166.20" y2="201.20" stroke="#3c3c3c" stroke-width="1.1" stroke-dasharray="4.4,4.4"/>
<text x="168.1" y="203.50" font-size="6.9" font-weight="bold" fill="#111">19 mM SO<tspan font-size="4.6" dy="1.4">4</tspan><tspan font-size="4.8" dy="-4.2">2-</tspan></text>
<line x1="150.50" y1="212.00" x2="166.20" y2="212.00" stroke="#6a6a6a" stroke-width="1.1" stroke-dasharray="4.4,4.4"/>
<text x="168.1" y="214.30" font-size="6.9" font-weight="bold" fill="#111">37 mM SO<tspan font-size="4.6" dy="1.4">4</tspan><tspan font-size="4.8" dy="-4.2">2-</tspan></text>
<line x1="150.50" y1="223.20" x2="166.20" y2="223.20" stroke="#b0b0b0" stroke-width="1.1" stroke-dasharray="1,3.5"/>
<text x="168.1" y="225.50" font-size="6.9" font-weight="bold" fill="#111">53 mM SO<tspan font-size="4.6" dy="1.4">4</tspan><tspan font-size="4.8" dy="-4.2">2-</tspan></text>
<line x1="150.50" y1="234.40" x2="166.20" y2="234.40" stroke="#f4a8a8" stroke-width="1.1" stroke-dasharray="1,3.5"/>
<text x="168.1" y="236.70" font-size="6.9" font-weight="bold" fill="#111">67 mM SO<tspan font-size="4.6" dy="1.4">4</tspan><tspan font-size="4.8" dy="-4.2">2-</tspan></text>
<line x1="150.50" y1="245.20" x2="166.20" y2="245.20" stroke="#ff6a6a" stroke-width="1.1" stroke-dasharray="4.4,2.2,1,2.2"/>
<text x="168.1" y="247.50" font-size="6.9" font-weight="bold" fill="#111">84 mM SO<tspan font-size="4.6" dy="1.4">4</tspan><tspan font-size="4.8" dy="-4.2">2-</tspan></text>
<line x1="150.50" y1="255.20" x2="166.20" y2="255.20" stroke="#e00000" stroke-width="1.1" stroke-dasharray="3,2.2,1,2.2,1,2.2"/>
<text x="168.1" y="257.50" font-size="6.9" font-weight="bold" fill="#111">121 mM SO<tspan font-size="4.6" dy="1.4">4</tspan><tspan font-size="4.8" dy="-4.2">2-</tspan></text>
<line x1="150.50" y1="265.10" x2="166.20" y2="265.10" stroke="#ff2020" stroke-width="1.1" stroke-dasharray="2.5,2.5"/>
<text x="168.1" y="267.40" font-size="6.9" font-weight="bold" fill="#111">180 mM SO<tspan font-size="4.6" dy="1.4">4</tspan><tspan font-size="4.8" dy="-4.2">2-</tspan></text>
<text x="229.00" y="185.00" font-size="12.5" text-anchor="start" fill="#000" font-weight="bold" >e</text>
<line x1="273.40" y1="191.50" x2="273.40" y2="313.60" stroke="#151515" stroke-width="1" />
<line x1="270.80" y1="310.50" x2="273.40" y2="310.50" stroke="#151515" stroke-width="1" />
<line x1="270.80" y1="282.55" x2="273.40" y2="282.55" stroke="#151515" stroke-width="1" />
<line x1="270.80" y1="254.60" x2="273.40" y2="254.60" stroke="#151515" stroke-width="1" />
<line x1="270.80" y1="226.65" x2="273.40" y2="226.65" stroke="#151515" stroke-width="1" />
<line x1="270.80" y1="198.70" x2="273.40" y2="198.70" stroke="#151515" stroke-width="1" />
<line x1="271.80" y1="296.52" x2="273.40" y2="296.52" stroke="#151515" stroke-width="1" />
<line x1="271.80" y1="268.57" x2="273.40" y2="268.57" stroke="#151515" stroke-width="1" />
<line x1="271.80" y1="240.62" x2="273.40" y2="240.62" stroke="#151515" stroke-width="1" />
<line x1="271.80" y1="212.67" x2="273.40" y2="212.67" stroke="#151515" stroke-width="1" />
<text transform="translate(268.70,314.33) scale(1,1.05)" font-size="10.2" text-anchor="end" fill="#0a0a0a" font-weight="normal" >0</text>
<text transform="translate(268.70,286.38) scale(1,1.05)" font-size="10.2" text-anchor="end" fill="#0a0a0a" font-weight="normal" >25</text>
<text transform="translate(268.70,258.43) scale(1,1.05)" font-size="10.2" text-anchor="end" fill="#0a0a0a" font-weight="normal" >50</text>
<text transform="translate(268.70,230.48) scale(1,1.05)" font-size="10.2" text-anchor="end" fill="#0a0a0a" font-weight="normal" >75</text>
<text transform="translate(268.70,202.53) scale(1,1.05)" font-size="10.2" text-anchor="end" fill="#0a0a0a" font-weight="normal" >100</text>
<line x1="272.90" y1="313.10" x2="438.70" y2="313.10" stroke="#151515" stroke-width="1" />
<line x1="274.30" y1="313.10" x2="274.30" y2="315.70" stroke="#151515" stroke-width="1" />
<line x1="316.67" y1="313.10" x2="316.67" y2="315.70" stroke="#151515" stroke-width="1" />
<line x1="359.03" y1="313.10" x2="359.03" y2="315.70" stroke="#151515" stroke-width="1" />
<line x1="401.40" y1="313.10" x2="401.40" y2="315.70" stroke="#151515" stroke-width="1" />
<line x1="295.48" y1="313.10" x2="295.48" y2="314.70" stroke="#151515" stroke-width="1" />
<line x1="337.85" y1="313.10" x2="337.85" y2="314.70" stroke="#151515" stroke-width="1" />
<line x1="380.22" y1="313.10" x2="380.22" y2="314.70" stroke="#151515" stroke-width="1" />
<line x1="422.58" y1="313.10" x2="422.58" y2="314.70" stroke="#151515" stroke-width="1" />
<text transform="translate(274.30,326.00) scale(1,1.05)" font-size="10.2" text-anchor="middle" fill="#0a0a0a" font-weight="normal" >0</text>
<text transform="translate(316.67,326.00) scale(1,1.05)" font-size="10.2" text-anchor="middle" fill="#0a0a0a" font-weight="normal" >50</text>
<text transform="translate(359.03,326.00) scale(1,1.05)" font-size="10.2" text-anchor="middle" fill="#0a0a0a" font-weight="normal" >100</text>
<text transform="translate(401.40,326.00) scale(1,1.05)" font-size="10.2" text-anchor="middle" fill="#0a0a0a" font-weight="normal" >150</text>
<text transform="translate(246.80,253.60) rotate(-90)" x="0" y="0" font-size="11.2" text-anchor="middle" fill="#0a0a0a" >Normalized - △ F/F (%)</text>
<text x="361.8" y="336" font-size="11.5" text-anchor="middle" fill="#0a0a0a">[SO<tspan font-size="7.5" dy="2">4</tspan><tspan font-size="7.5" dy="-6.5">2-</tspan><tspan dy="4.5">] (mM)</tspan></text>
<text x="343.6" y="253" font-size="8.1" fill="#0a0a0a" letter-spacing="0.25">K<tspan font-size="5.8" dy="1.6">d</tspan><tspan dy="-1.6"> = 33 ± 3 mM</tspan></text>
<path d="M274.30,311.00 C274.75,310.78 276.00,310.32 277.00,309.70 C278.00,309.08 279.25,308.28 280.30,307.30 C281.35,306.32 282.28,305.10 283.30,303.80 C284.32,302.50 285.37,301.13 286.40,299.50 C287.43,297.87 288.47,295.92 289.50,294.00 C290.53,292.08 291.57,290.08 292.60,288.00 C293.63,285.92 294.67,283.72 295.70,281.50 C296.73,279.28 297.77,276.98 298.80,274.70 C299.83,272.42 300.88,270.03 301.90,267.80 C302.92,265.57 303.88,263.43 304.90,261.30 C305.92,259.17 306.92,257.13 308.00,255.00 C309.08,252.87 310.32,250.58 311.40,248.50 C312.48,246.42 313.47,244.38 314.50,242.50 C315.53,240.62 316.58,238.95 317.60,237.20 C318.62,235.45 319.58,233.65 320.60,232.00 C321.62,230.35 322.58,228.80 323.70,227.30 C324.82,225.80 326.10,224.28 327.30,223.00 C328.50,221.72 329.70,220.65 330.90,219.60 C332.10,218.55 333.30,217.60 334.50,216.70 C335.70,215.80 336.85,215.02 338.10,214.20 C339.35,213.38 340.63,212.53 342.00,211.80 C343.37,211.07 344.80,210.43 346.30,209.80 C347.80,209.17 349.28,208.58 351.00,208.00 C352.72,207.42 354.77,206.83 356.60,206.30 C358.43,205.77 359.82,205.30 362.00,204.80 C364.18,204.30 367.20,203.73 369.70,203.30 C372.20,202.87 374.57,202.50 377.00,202.20 C379.43,201.90 381.97,201.70 384.30,201.50 C386.63,201.30 388.55,201.13 391.00,201.00 C393.45,200.87 395.50,200.78 399.00,200.70 C402.50,200.62 407.48,200.55 412.00,200.50 C416.52,200.45 423.75,200.42 426.10,200.40" fill="none" stroke="#ff1a1a" stroke-width="1.1" stroke-linejoin="round" stroke-linecap="butt" />
<rect x="273.20" y="309.50" width="2.6" height="2.6" fill="#111"/>
<rect x="289.60" y="281.60" width="2.6" height="2.6" fill="#111"/>
<rect x="289.60" y="304.20" width="2.6" height="2.6" fill="#111"/>
<line x1="288.50" y1="294.20" x2="293.30" y2="294.20" stroke="#222" stroke-width="0.9" />
<rect x="305.00" y="231.80" width="2.6" height="2.6" fill="#111"/>
<rect x="305.00" y="282.00" width="2.6" height="2.6" fill="#111"/>
<line x1="303.90" y1="258.30" x2="308.70" y2="258.30" stroke="#222" stroke-width="0.9" />
<rect x="318.80" y="211.70" width="2.6" height="2.6" fill="#111"/>
<rect x="318.80" y="253.20" width="2.6" height="2.6" fill="#111"/>
<line x1="317.70" y1="233.50" x2="322.50" y2="233.50" stroke="#222" stroke-width="0.9" />
<rect x="331.60" y="203.70" width="2.6" height="2.6" fill="#111"/>
<rect x="331.60" y="231.40" width="2.6" height="2.6" fill="#111"/>
<line x1="330.50" y1="218.70" x2="335.30" y2="218.70" stroke="#222" stroke-width="0.9" />
<rect x="344.30" y="200.60" width="2.6" height="2.6" fill="#111"/>
<rect x="344.30" y="220.90" width="2.6" height="2.6" fill="#111"/>
<line x1="343.20" y1="211.60" x2="348.00" y2="211.60" stroke="#222" stroke-width="0.9" />
<rect x="355.10" y="199.50" width="2.6" height="2.6" fill="#111"/>
<rect x="355.10" y="213.70" width="2.6" height="2.6" fill="#111"/>
<line x1="354.00" y1="208.00" x2="358.80" y2="208.00" stroke="#222" stroke-width="0.9" />
<rect x="365.90" y="198.80" width="2.6" height="2.6" fill="#111"/>
<rect x="365.90" y="210.10" width="2.6" height="2.6" fill="#111"/>
<line x1="364.80" y1="205.50" x2="369.60" y2="205.50" stroke="#222" stroke-width="0.9" />
<rect x="375.70" y="198.40" width="2.6" height="2.6" fill="#111"/>
<rect x="375.70" y="205.70" width="2.6" height="2.6" fill="#111"/>
<line x1="374.60" y1="203.30" x2="379.40" y2="203.30" stroke="#222" stroke-width="0.9" />
<rect x="384.90" y="198.10" width="2.6" height="2.6" fill="#111"/>
<rect x="384.90" y="206.00" width="2.6" height="2.6" fill="#111"/>
<line x1="383.80" y1="203.30" x2="388.60" y2="203.30" stroke="#222" stroke-width="0.9" />
<rect x="393.70" y="197.90" width="2.6" height="2.6" fill="#111"/>
<rect x="393.70" y="201.00" width="2.6" height="2.6" fill="#111"/>
<line x1="392.60" y1="200.80" x2="397.40" y2="200.80" stroke="#222" stroke-width="0.9" />
<rect x="402.10" y="197.90" width="2.6" height="2.6" fill="#111"/>
<rect x="410.10" y="197.90" width="2.6" height="2.6" fill="#111"/>
<rect x="417.40" y="197.90" width="2.6" height="2.6" fill="#111"/>
<rect x="424.80" y="197.60" width="2.6" height="2.6" fill="#111"/>
<text x="461.50" y="183.30" font-size="12.5" text-anchor="start" fill="#000" font-weight="bold" >f</text>
<line x1="499.00" y1="192.30" x2="499.00" y2="314.50" stroke="#151515" stroke-width="1" />
<line x1="496.40" y1="313.30" x2="499.00" y2="313.30" stroke="#151515" stroke-width="1" />
<line x1="496.40" y1="288.15" x2="499.00" y2="288.15" stroke="#151515" stroke-width="1" />
<line x1="496.40" y1="263.00" x2="499.00" y2="263.00" stroke="#151515" stroke-width="1" />
<line x1="496.40" y1="237.85" x2="499.00" y2="237.85" stroke="#151515" stroke-width="1" />
<line x1="496.40" y1="212.70" x2="499.00" y2="212.70" stroke="#151515" stroke-width="1" />
<line x1="497.40" y1="300.73" x2="499.00" y2="300.73" stroke="#151515" stroke-width="1" />
<line x1="497.40" y1="275.57" x2="499.00" y2="275.57" stroke="#151515" stroke-width="1" />
<line x1="497.40" y1="250.42" x2="499.00" y2="250.42" stroke="#151515" stroke-width="1" />
<line x1="497.40" y1="225.27" x2="499.00" y2="225.27" stroke="#151515" stroke-width="1" />
<line x1="497.40" y1="200.12" x2="499.00" y2="200.12" stroke="#151515" stroke-width="1" />
<text transform="translate(494.90,317.13) scale(1,1.05)" font-size="10.2" text-anchor="end" fill="#0a0a0a" font-weight="normal" >0</text>
<text transform="translate(494.90,291.98) scale(1,1.05)" font-size="10.2" text-anchor="end" fill="#0a0a0a" font-weight="normal" >25</text>
<text transform="translate(494.90,266.83) scale(1,1.05)" font-size="10.2" text-anchor="end" fill="#0a0a0a" font-weight="normal" >50</text>
<text transform="translate(494.90,241.68) scale(1,1.05)" font-size="10.2" text-anchor="end" fill="#0a0a0a" font-weight="normal" >75</text>
<text transform="translate(494.90,216.53) scale(1,1.05)" font-size="10.2" text-anchor="end" fill="#0a0a0a" font-weight="normal" >100</text>
<line x1="498.50" y1="314.00" x2="648.80" y2="314.00" stroke="#151515" stroke-width="1" />
<line x1="499.40" y1="314.00" x2="499.40" y2="316.60" stroke="#151515" stroke-width="1" />
<line x1="529.28" y1="314.00" x2="529.28" y2="316.60" stroke="#151515" stroke-width="1" />
<line x1="559.16" y1="314.00" x2="559.16" y2="316.60" stroke="#151515" stroke-width="1" />
<line x1="589.04" y1="314.00" x2="589.04" y2="316.60" stroke="#151515" stroke-width="1" />
<line x1="618.92" y1="314.00" x2="618.92" y2="316.60" stroke="#151515" stroke-width="1" />
<line x1="648.80" y1="314.00" x2="648.80" y2="316.60" stroke="#151515" stroke-width="1" />
<line x1="514.34" y1="314.00" x2="514.34" y2="315.60" stroke="#151515" stroke-width="1" />
<line x1="544.22" y1="314.00" x2="544.22" y2="315.60" stroke="#151515" stroke-width="1" />
<line x1="574.10" y1="314.00" x2="574.10" y2="315.60" stroke="#151515" stroke-width="1" />
<line x1="603.98" y1="314.00" x2="603.98" y2="315.60" stroke="#151515" stroke-width="1" />
<line x1="633.86" y1="314.00" x2="633.86" y2="315.60" stroke="#151515" stroke-width="1" />
<text transform="translate(499.40,325.70) scale(1,1.05)" font-size="10.2" text-anchor="middle" fill="#0a0a0a" font-weight="normal" >0.0</text>
<text transform="translate(529.28,325.70) scale(1,1.05)" font-size="10.2" text-anchor="middle" fill="#0a0a0a" font-weight="normal" >0.1</text>
<text transform="translate(559.16,325.70) scale(1,1.05)" font-size="10.2" text-anchor="middle" fill="#0a0a0a" font-weight="normal" >0.2</text>
<text transform="translate(589.04,325.70) scale(1,1.05)" font-size="10.2" text-anchor="middle" fill="#0a0a0a" font-weight="normal" >0.3</text>
<text transform="translate(618.92,325.70) scale(1,1.05)" font-size="10.2" text-anchor="middle" fill="#0a0a0a" font-weight="normal" >0.4</text>
<text transform="translate(648.80,325.70) scale(1,1.05)" font-size="10.2" text-anchor="middle" fill="#0a0a0a" font-weight="normal" >0.5</text>
<text transform="translate(474.90,258.30) rotate(-90)" x="0" y="0" font-size="11.8" text-anchor="middle" fill="#0a0a0a" >Normalized △F/F (%)</text>
<text x="569.40" y="338.00" font-size="11.5" text-anchor="middle" fill="#0a0a0a" font-weight="normal" >Time (s)</text>
<path d="M499.20,201.40 L500.50,201.50 L501.50,205.00 L502.20,215.00 L503.00,230.00 L503.60,238.00 L504.50,246.00 L505.20,255.00 L506.00,262.00 L507.00,263.25 L508.00,264.50 L509.00,264.94 L510.00,265.34 L511.00,264.24 L512.10,263.75 L513.20,265.85 L514.30,265.56 L515.40,265.46 L516.36,266.45 L517.31,266.61 L518.27,267.02 L519.22,267.15 L520.18,266.84 L521.13,267.89 L522.09,267.96 L523.04,267.21 L524.00,269.43 L524.92,268.17 L525.85,267.88 L526.77,269.13 L527.69,269.51 L528.62,268.14 L529.54,269.76 L530.46,270.04 L531.38,269.54 L532.31,269.00 L533.23,270.70 L534.15,270.27 L535.08,270.39 L536.00,269.23 L536.90,270.47 L537.80,269.60 L538.70,271.59 L539.60,271.36 L540.50,270.76 L541.40,270.36 L542.30,271.70 L543.20,272.49 L544.10,272.98 L545.00,272.12 L545.92,273.14 L546.85,271.67 L547.77,271.72 L548.70,273.56 L549.62,273.45 L550.55,272.21 L551.48,272.78 L552.40,272.48 L553.33,273.82 L554.25,274.51 L555.17,274.23 L556.10,273.06 L557.02,274.55 L557.95,274.49 L558.88,274.44 L559.80,274.57 L560.73,274.73 L561.65,273.54 L562.58,275.66 L563.50,276.19 L564.40,273.86 L565.31,274.14 L566.21,273.98 L567.12,275.53 L568.02,274.31 L568.92,274.48 L569.83,276.43 L570.73,275.18 L571.63,275.06 L572.54,275.63 L573.44,276.12 L574.35,276.83 L575.25,276.81 L576.15,277.22 L577.06,277.75 L577.96,276.52 L578.87,277.42 L579.77,276.17 L580.67,278.28 L581.58,276.16 L582.48,276.82 L583.38,276.34 L584.29,276.52 L585.19,276.63 L586.10,277.58 L587.00,279.17 L587.94,277.37 L588.87,278.98 L589.81,278.76 L590.74,277.92 L591.68,278.40 L592.62,278.80 L593.55,277.54 L594.49,278.50 L595.42,279.32 L596.36,279.66 L597.30,278.19 L598.23,279.30 L599.17,278.62 L600.10,279.85 L601.04,280.37 L601.98,279.60 L602.91,278.98 L603.85,280.77 L604.78,279.27 L605.72,279.04 L606.66,279.46 L607.59,279.52 L608.53,281.76 L609.46,280.25 L610.40,279.76 L611.30,281.96 L612.21,281.48 L613.11,281.58 L614.02,281.00 L614.92,281.36 L615.82,281.32 L616.73,280.63 L617.63,282.73 L618.53,282.69 L619.44,282.59 L620.34,282.69 L621.25,282.93 L622.15,280.67 L623.05,281.07 L623.96,283.16 L624.86,282.17 L625.77,282.75 L626.67,282.84 L627.57,282.84 L628.48,282.16 L629.38,282.41 L630.28,283.09 L631.19,283.63 L632.09,283.36 L633.00,283.99 L633.90,282.96 L635.00,284.60 L635.00,313.29 L633.90,312.28 L633.00,311.62 L632.09,311.68 L631.19,311.91 L630.28,312.21 L629.38,312.41 L628.48,311.57 L627.57,312.21 L626.67,311.77 L625.77,311.30 L624.86,311.08 L623.96,311.18 L623.05,311.43 L622.15,310.81 L621.25,311.18 L620.34,310.64 L619.44,310.13 L618.53,310.54 L617.63,310.71 L616.73,309.46 L615.82,309.98 L614.92,309.86 L614.02,310.56 L613.11,310.54 L612.21,309.41 L611.30,310.24 L610.40,309.92 L609.46,308.86 L608.53,309.11 L607.59,308.39 L606.66,309.52 L605.72,309.13 L604.78,309.43 L603.85,309.14 L602.91,308.81 L601.98,308.81 L601.04,308.39 L600.10,307.45 L599.17,308.21 L598.23,307.05 L597.30,307.19 L596.36,308.21 L595.42,306.79 L594.49,306.76 L593.55,306.66 L592.62,307.96 L591.68,306.58 L590.74,306.19 L589.81,307.55 L588.87,306.14 L587.94,307.33 L587.00,306.91 L586.10,307.12 L585.19,307.24 L584.29,306.48 L583.38,306.78 L582.48,305.32 L581.58,306.55 L580.67,306.00 L579.77,306.28 L578.87,305.10 L577.96,306.16 L577.06,306.41 L576.15,304.75 L575.25,305.13 L574.35,305.48 L573.44,305.86 L572.54,304.72 L571.63,304.52 L570.73,304.56 L569.83,305.13 L568.92,305.29 L568.02,304.55 L567.12,304.42 L566.21,304.38 L565.31,304.21 L564.40,304.24 L563.50,303.55 L562.58,304.18 L561.65,304.91 L560.73,303.78 L559.80,304.27 L558.88,303.09 L557.95,303.92 L557.02,303.92 L556.10,303.65 L555.17,303.25 L554.25,303.07 L553.33,303.24 L552.40,303.58 L551.48,302.11 L550.55,301.89 L549.62,302.95 L548.70,303.13 L547.77,302.29 L546.85,302.04 L545.92,302.41 L545.00,301.33 L544.09,301.35 L543.17,301.09 L542.26,301.65 L541.35,301.03 L540.43,300.74 L539.52,301.44 L538.61,301.77 L537.70,300.45 L536.78,301.06 L535.87,300.40 L534.96,301.05 L534.04,300.43 L533.13,299.73 L532.22,299.50 L531.30,299.02 L530.39,299.71 L529.48,299.40 L528.57,298.88 L527.65,299.09 L526.74,298.88 L525.83,299.56 L524.91,298.29 L524.00,299.68 L523.08,298.63 L522.15,298.72 L521.23,298.35 L520.31,298.88 L519.38,298.73 L518.46,298.12 L517.54,297.85 L516.62,298.15 L515.69,298.27 L514.77,297.31 L513.85,297.78 L512.92,298.06 L512.00,297.04 L511.10,296.27 L510.20,295.94 L509.30,296.47 L508.40,296.06 L507.50,294.50 L506.50,291.25 L505.50,288.00 L504.30,278.00 L503.20,262.00 L502.50,248.00 L501.80,236.00 L500.50,226.00 L499.20,218.00 Z" fill="#c4c4c4" stroke="none"/>
<path d="M499.60,212.80 L500.50,220.00 L501.60,235.00 L502.50,245.00 L503.60,252.60 L504.40,262.00 L505.50,270.00 L506.50,275.00 L507.50,278.23" fill="none" stroke="#ff1010" stroke-width="1.15" stroke-linejoin="round" stroke-linecap="butt" />
<path d="M507.50,278.23 L508.80,279.24 L510.10,279.34 L511.10,279.64 L512.10,280.17 L513.10,280.44 L514.10,281.77 L515.10,282.45 L516.10,282.92 L517.10,282.16 L518.16,283.50 L519.22,282.74 L520.28,283.18 L521.34,283.97 L522.40,283.05 L523.46,283.31 L524.52,284.88 L525.58,284.15 L526.64,284.50 L527.70,285.14 L528.74,285.54 L529.78,284.56 L530.81,285.38 L531.85,285.79 L532.89,286.10 L533.92,285.83 L534.96,286.73 L536.00,287.62 L537.00,286.77 L538.00,287.21 L539.00,286.61 L540.00,287.06 L541.00,287.93 L542.00,287.10 L543.00,288.66 L544.00,288.87 L545.00,287.57 L546.03,289.22 L547.06,288.33 L548.08,289.17 L549.11,289.27 L550.14,288.57 L551.17,289.38 L552.19,289.47 L553.22,289.87 L554.25,289.03 L555.28,290.04 L556.31,290.54 L557.33,290.14 L558.36,290.03 L559.39,289.39 L560.42,290.21 L561.44,290.08 L562.47,290.86 L563.50,290.92 L564.52,290.84 L565.54,290.26 L566.57,291.21 L567.59,291.31 L568.61,290.61 L569.63,292.01 L570.65,291.70 L571.67,290.86 L572.70,292.43 L573.72,291.13 L574.74,291.59 L575.76,292.41 L576.78,292.30 L577.80,292.34 L578.83,292.63 L579.85,292.40 L580.87,292.26 L581.89,292.13 L582.91,292.05 L583.93,293.34 L584.96,293.52 L585.98,293.26 L587.00,293.73 L588.02,293.15 L589.03,293.08 L590.05,293.39 L591.07,294.37 L592.09,292.98 L593.10,293.91 L594.12,293.54 L595.14,294.58 L596.16,293.94 L597.17,294.00 L598.19,294.23 L599.21,294.57 L600.23,295.09 L601.24,294.44 L602.26,295.42 L603.28,294.20 L604.30,294.59 L605.31,294.38 L606.33,294.50 L607.35,295.80 L608.37,295.81 L609.38,294.93 L610.40,295.04 L611.43,295.52 L612.46,296.19 L613.49,296.39 L614.52,296.35 L615.56,296.14 L616.59,295.41 L617.62,295.94 L618.65,295.65 L619.68,296.32 L620.71,296.47 L621.74,295.89 L622.77,296.05 L623.81,297.08 L624.84,295.80 L625.87,297.27 L626.90,297.50 L627.93,298.01 L628.97,297.39 L630.00,298.09 L631.12,298.77 L632.25,299.49 L633.38,300.73 L634.50,300.50" fill="none" stroke="#ff1010" stroke-width="1.6" stroke-linejoin="round" stroke-linecap="butt" />
<text x="553.0" y="208.7" font-size="8.4" fill="#0a0a0a" letter-spacing="0.1">0 mM</text>
<line x1="577.80" y1="206.20" x2="584.50" y2="206.20" stroke="#0a0a0a" stroke-width="0.6" />
<path d="M583.2,205.1 L585.9,206.2 L583.2,207.3 Z" fill="#0a0a0a"/>
<text x="586.0" y="208.7" font-size="8.6" fill="#0a0a0a" letter-spacing="0.15">100 mM</text>
<text x="553.0" y="223.7" font-size="8.4" fill="#0a0a0a">τ<tspan font-size="5.9" dy="2">assoc</tspan><tspan dy="-2" letter-spacing="0.35">= 22 ms</tspan></text>
</svg>
</body></html>
